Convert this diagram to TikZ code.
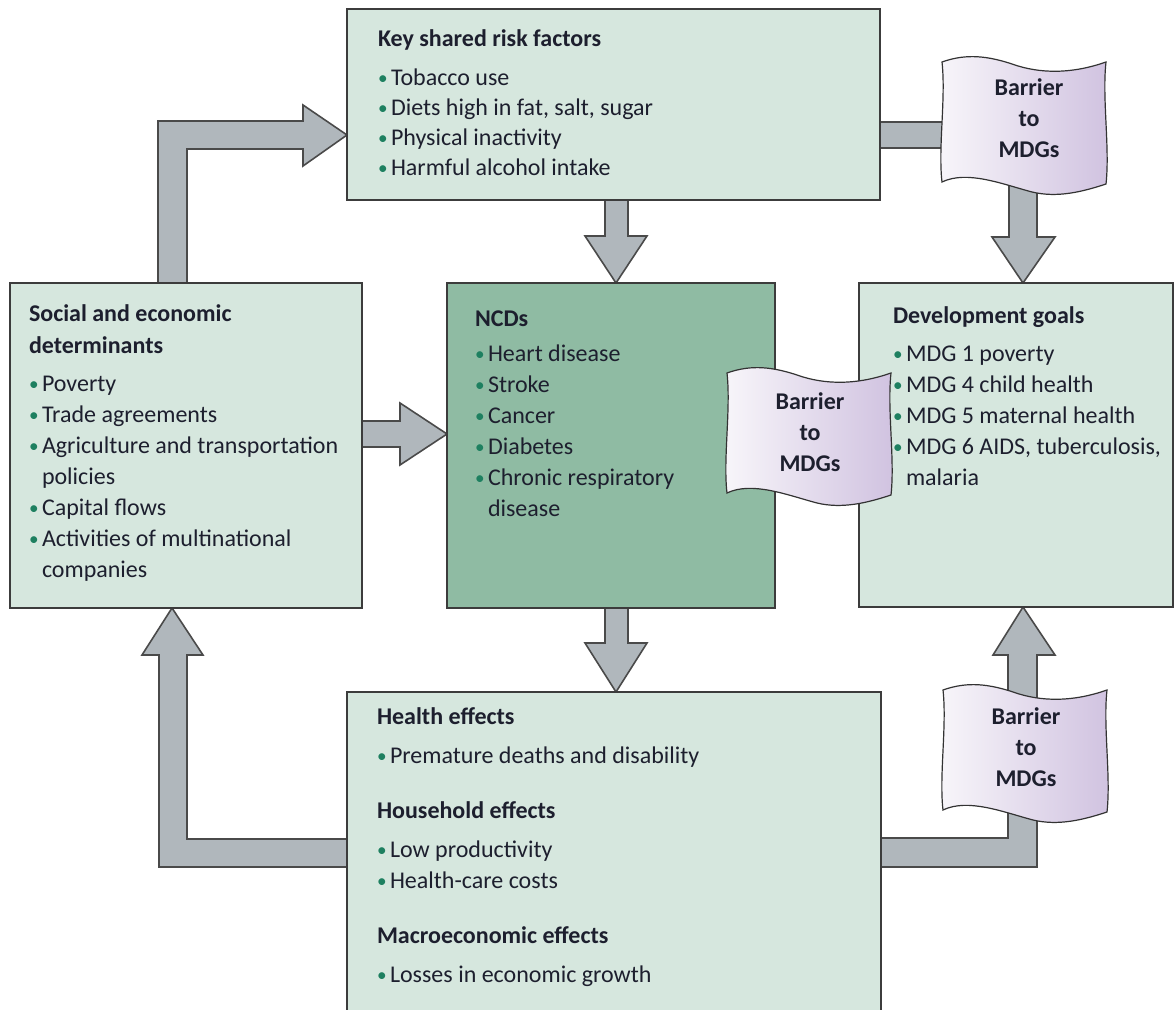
\documentclass[tikz,border=0pt]{standalone}
\usepackage{fontspec}
\setmainfont{Carlito}
\usepackage{graphicx}
\definecolor{boxfill}{HTML}{D6E7DE}
\definecolor{ncdfill}{HTML}{8FBBA3}
\definecolor{bordercol}{HTML}{3C3C3C}
\definecolor{arrowfill}{HTML}{B0B7BC}
\definecolor{arrowdraw}{HTML}{4A4A4A}
\definecolor{textcol}{HTML}{1D1F2E}
\definecolor{bulgreen}{HTML}{1E8060}
\definecolor{banL}{HTML}{F8F6FA}
\definecolor{banR}{HTML}{D0C2E0}
\definecolor{bandraw}{HTML}{333333}
\newcommand\bul{\makebox[6.5pt][l]{\raisebox{0.5pt}{\textcolor{bulgreen}{\scalebox{0.8}{\textbullet}}}}}
\newcommand\hb{\hspace*{6.5pt}}
\begin{document}
\begin{tikzpicture}[x=0.5pt,y=-0.5pt,
  box/.style={draw=bordercol, line width=0.8pt, fill=boxfill, anchor=north west, inner sep=0pt, outer sep=0pt},
  fat/.style={fill=arrowfill, draw=arrowdraw, line width=0.8pt, line join=miter},
  txt/.style={anchor=base west, inner sep=0pt, outer sep=0pt, text width=200pt, align=flush left,
     font=\fontsize{12}{15.5}\selectfont, text=textcol},
  btxt/.style={anchor=base, inner sep=0pt, outer sep=0pt, text width=70pt, align=center,
     font=\bfseries\fontsize{12}{15.5}\selectfont, text=textcol},
  banner/.pic={
    \shade[left color=banL, right color=banR, draw=bandraw, line width=0.6pt]
      (0,4) .. controls (20,-3) and (40,-4) .. (70,6)
      .. controls (98,16) and (130,16) .. (164,4)
      .. controls (160,40) and (168,90) .. (164,126)
      .. controls (140,134) and (115,140) .. (90,134)
      .. controls (60,126) and (25,112) .. (0,124)
      .. controls (-4,90) and (4,40) .. cycle;
  }]
\useasboundingbox (0,0) rectangle (1174,1010);
\clip (0,0) rectangle (1174,1010);

% fat arrows
\filldraw[fat] (605,195)--(605,236)--(585,236)--(616,283)--(647,236)--(628,236)--(628,195)--cycle;
\filldraw[fat] (605,603)--(605,643)--(585,643)--(616,692)--(647,643)--(628,643)--(628,603)--cycle;
\filldraw[fat] (357,421)--(400,421)--(400,403)--(447,434)--(400,465)--(400,447)--(357,447)--cycle;
\filldraw[fat] (158,288)--(158,121)--(303,121)--(303,105)--(347,135)--(303,166)--(303,149)--(187,149)--(187,288)--cycle;
\filldraw[fat] (352,839)--(187,839)--(187,655)--(203,655)--(172,608)--(142,655)--(159,655)--(159,867)--(352,867)--cycle;
\filldraw[fat] (875,122)--(1037,122)--(1037,237)--(1055,237)--(1023,283)--(992,237)--(1009,237)--(1009,148)--(875,148)--cycle;
\filldraw[fat] (876,867)--(1037,867)--(1037,655)--(1055,655)--(1023,607)--(993,655)--(1008,655)--(1008,838)--(876,838)--cycle;

% boxes
\node[box, minimum width=266.5pt, minimum height=95.5pt] (risk) at (347,9) {};
\node[box, minimum width=176pt, minimum height=162.5pt] (social) at (10,283) {};
\node[box, fill=ncdfill, minimum width=164pt, minimum height=162.5pt] (ncd) at (447,283) {};
\node[box, minimum width=157pt, minimum height=162pt] (dev) at (859,283) {};
\node[box, minimum width=267pt, minimum height=170pt] (eff) at (347,692) {};

% banners
\pic (ban1) at (942,58) {banner};
\pic (ban2) at (727,369) {banner};
\pic (ban3) at (943,686) {banner};

% texts
\node[txt, font=\fontsize{12}{15}\selectfont] (risktext) at (378,47) {{\bfseries Key shared risk factors}\\[4.5pt]
 \bul Tobacco use\\ \bul Diets high in fat, salt, sugar\\ \bul Physical inactivity\\ \bul Harmful alcohol intake};
\node[txt] (socialtext) at (29,322) {{\bfseries Social and economic\\[0.5pt]determinants}\\[3.5pt]
 \bul Poverty\\ \bul Trade agreements\\ \bul Agriculture and transportation\\ \hb policies\\
 \bul Capital flows\\ \bul Activities of multinational\\ \hb companies};
\node[txt] (ncdtext) at (475,327) {{\bfseries NCDs}\\[2pt]
 \bul Heart disease\\ \bul Stroke\\ \bul Cancer\\ \bul Diabetes\\ \bul Chronic respiratory\\ \hb disease};
\node[txt] (devtext) at (893,324) {{\bfseries Development goals}\\[3.5pt]
 \bul MDG 1 poverty\\ \bul MDG 4 child health\\ \bul MDG 5 maternal health\\ \bul MDG 6 AIDS, tuberculosis,\\ \hb malaria};
\node[txt] (efftext) at (377,725) {{\bfseries Health effects}\\[4pt]
 \bul Premature deaths and disability\\[12pt]
 {\bfseries Household effects}\\[4pt]
 \bul Low productivity\\ \bul Health-care costs\\[12pt]
 {\bfseries Macroeconomic effects}\\[4pt]
 \bul Losses in economic growth};

\node[btxt] (bar1) at (1029,96) {Barrier\\to\\MDGs};
\node[btxt] (bar2) at (810,410) {Barrier\\to\\MDGs};
\node[btxt] (bar3) at (1026,725) {Barrier\\to\\MDGs};
\end{tikzpicture}
\end{document}
